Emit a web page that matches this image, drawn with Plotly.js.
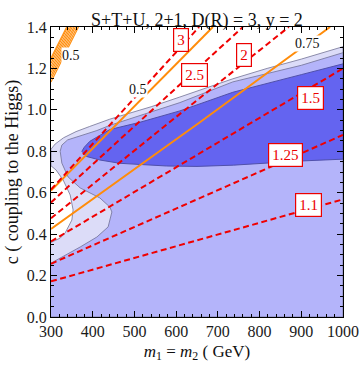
<!DOCTYPE html>
<html>
<head>
<meta charset="utf-8">
<script src="https://cdn.plot.ly/plotly-3.0.1.min.js"></script>
<style>
  html, body { margin: 0; padding: 0; background: #fff; }
  #chart { width: 360px; height: 365px; }
</style>
</head>
<body>
<div id="chart"></div>
<script>
// allowed regions (m in GeV, c)
const outerX = [300, 1000, 1000, 900, 818, 736, 609, 540, 477, 441, 393, 360, 330, 310, 300, 300, 312, 329, 346, 353, 350, 334, 322, 302, 300];
const outerY = [0, 0, 1.305, 1.245, 1.20, 1.15, 1.062, 1.015, 0.977, 0.955, 0.92, 0.895, 0.865, 0.835, 0.81, 0.73, 0.71, 0.662, 0.589, 0.517, 0.468, 0.406, 0.381, 0.362, 0.36];

const midX = [300, 1000, 1000, 900, 736, 609, 540, 477, 441, 410, 370, 340, 326, 322, 326, 341, 370, 417, 441, 446, 437, 410, 370, 329, 300];
const midY = [0, 0, 1.276, 1.215, 1.135, 1.035, 0.99, 0.948, 0.925, 0.90, 0.875, 0.855, 0.83, 0.80, 0.743, 0.676, 0.623, 0.575, 0.531, 0.507, 0.435, 0.386, 0.338, 0.29, 0.26];

const innerX = [374, 385, 417, 465, 577, 650, 737, 897, 1000, 1000, 900, 800, 736, 609, 513, 441, 393, 380, 374];
const innerY = [0.80, 0.775, 0.758, 0.742, 0.729, 0.727, 0.733, 0.753, 0.762, 1.222, 1.17, 1.118, 1.085, 0.995, 0.94, 0.905, 0.848, 0.82, 0.80];

// orange contours
const orangeAX = [300, 445, 688];
const orangeAY = [0.61, 0.905, 1.4];
const orangeBX = [300, 417, 561, 657, 969];
const orangeBY = [0.425, 0.595, 0.80, 0.94, 1.40];
// crowded 0.5 lines in the top-left corner: start on the left edge, end on the top edge
const bundleStartY = [1.135, 1.15, 1.165, 1.18, 1.195, 1.21, 1.225, 1.24, 1.25];
const bundleEndX = [366, 362.5, 358.5, 355, 351, 347.5, 344, 340, 337.5];

// red dashed ratio lines
const ratioLabels = ['1.1', '1.25', '1.5', '2', '2.5', '3'];
const ratioX = [[300, 1000], [300, 657, 1000], [300, 657, 1000], [300, 561, 870], [300, 609, 760], [300, 655]];
const ratioY = [[0.172, 0.568], [0.257, 0.573, 0.879], [0.365, 0.79, 1.20], [0.477, 0.903, 1.4], [0.553, 1.12, 1.4], [0.615, 1.4]];
const ratioLabelX = [918, 861, 923, 763, 645, 612];
const ratioLabelY = [0.539, 0.78, 1.058, 1.263, 1.169, 1.335];

const contourLabels = ['0.5', '0.75', '0.5'];
const contourLabelX = [509, 916, 349];
const contourLabelY = [1.10, 1.319, 1.261];

const serif = 'Liberation Serif, Times New Roman, serif';
const orange = 'rgb(255,140,10)';

const traces = [
  { x: outerX, y: outerY, fill: 'toself', fillcolor: 'rgb(220,220,248)',
    line: { color: 'rgb(140,140,170)', width: 1 } },
  { x: midX, y: midY, fill: 'toself', fillcolor: 'rgb(180,180,250)',
    line: { color: 'rgb(130,130,170)', width: 1 } },
  { x: innerX, y: innerY, fill: 'toself', fillcolor: 'rgb(100,100,240)',
    line: { color: 'rgb(80,80,170)', width: 1 } },
  { x: orangeAX, y: orangeAY, line: { color: orange, width: 2 } },
  { x: orangeBX, y: orangeBY, line: { color: orange, width: 2 } }
];

bundleStartY.forEach((y0, i) => {
  traces.push({ x: [300, bundleEndX[i]], y: [y0, 1.4], line: { color: orange, width: 1.1 } });
});

ratioX.forEach((xs, i) => {
  traces.push({ x: xs, y: ratioY[i], line: { color: 'rgb(240,0,0)', width: 2, dash: '6px,3.5px' } });
});

traces.forEach(t => { t.type = 'scatter'; t.mode = 'lines'; t.hoverinfo = 'skip'; t.showlegend = false; });

const annotations = [];
ratioLabels.forEach((txt, i) => {
  annotations.push({
    x: ratioLabelX[i], y: ratioLabelY[i], text: txt, showarrow: false,
    font: { family: serif, size: 15, color: 'rgb(235,0,0)' },
    bgcolor: 'white', bordercolor: 'rgb(235,0,0)', borderwidth: 1.2, borderpad: 3
  });
});
contourLabels.forEach((txt, i) => {
  annotations.push({
    x: contourLabelX[i], y: contourLabelY[i], text: txt, showarrow: false,
    font: { family: serif, size: 14, color: '#111' },
    bgcolor: 'white', borderpad: 0
  });
});

const axisCommon = {
  showline: true, linecolor: 'black', linewidth: 1, mirror: 'ticks',
  ticks: 'inside', ticklen: 6, tickcolor: 'black', tickwidth: 1,
  showgrid: false, zeroline: false, automargin: false,
  tickfont: { family: serif, size: 16, color: '#1a1a1a' }
};

const layout = {
  width: 360, height: 365,
  margin: { l: 51, r: 17, t: 27, b: 48 },
  paper_bgcolor: 'white', plot_bgcolor: 'white',
  title: {
    text: 'S+T+U, 2+1, D(R) = 3, y = 2',
    font: { family: serif, size: 18, color: '#111' },
    x: 0.5, xref: 'paper', y: 0.962, yref: 'container'
  },
  xaxis: Object.assign({}, axisCommon, {
    range: [300, 1000], tick0: 300, dtick: 100,
    minor: { dtick: 20, ticks: 'inside', ticklen: 3, tickcolor: 'black' },
    title: { text: '<i>m</i><sub>1</sub> = <i>m</i><sub>2</sub> ( GeV)', font: { family: serif, size: 17, color: '#111' }, standoff: 5 }
  }),
  yaxis: Object.assign({}, axisCommon, {
    range: [0, 1.4], tick0: 0, dtick: 0.2, tickformat: '.1f',
    minor: { dtick: 0.05, ticks: 'inside', ticklen: 3, tickcolor: 'black' },
    title: { text: 'c ( coupling to the Higgs)', font: { family: serif, size: 18, color: '#111' }, standoff: 3 }
  }),
  annotations: annotations
};

Plotly.newPlot('chart', traces, layout, { staticPlot: true });
</script>
</body>
</html>
